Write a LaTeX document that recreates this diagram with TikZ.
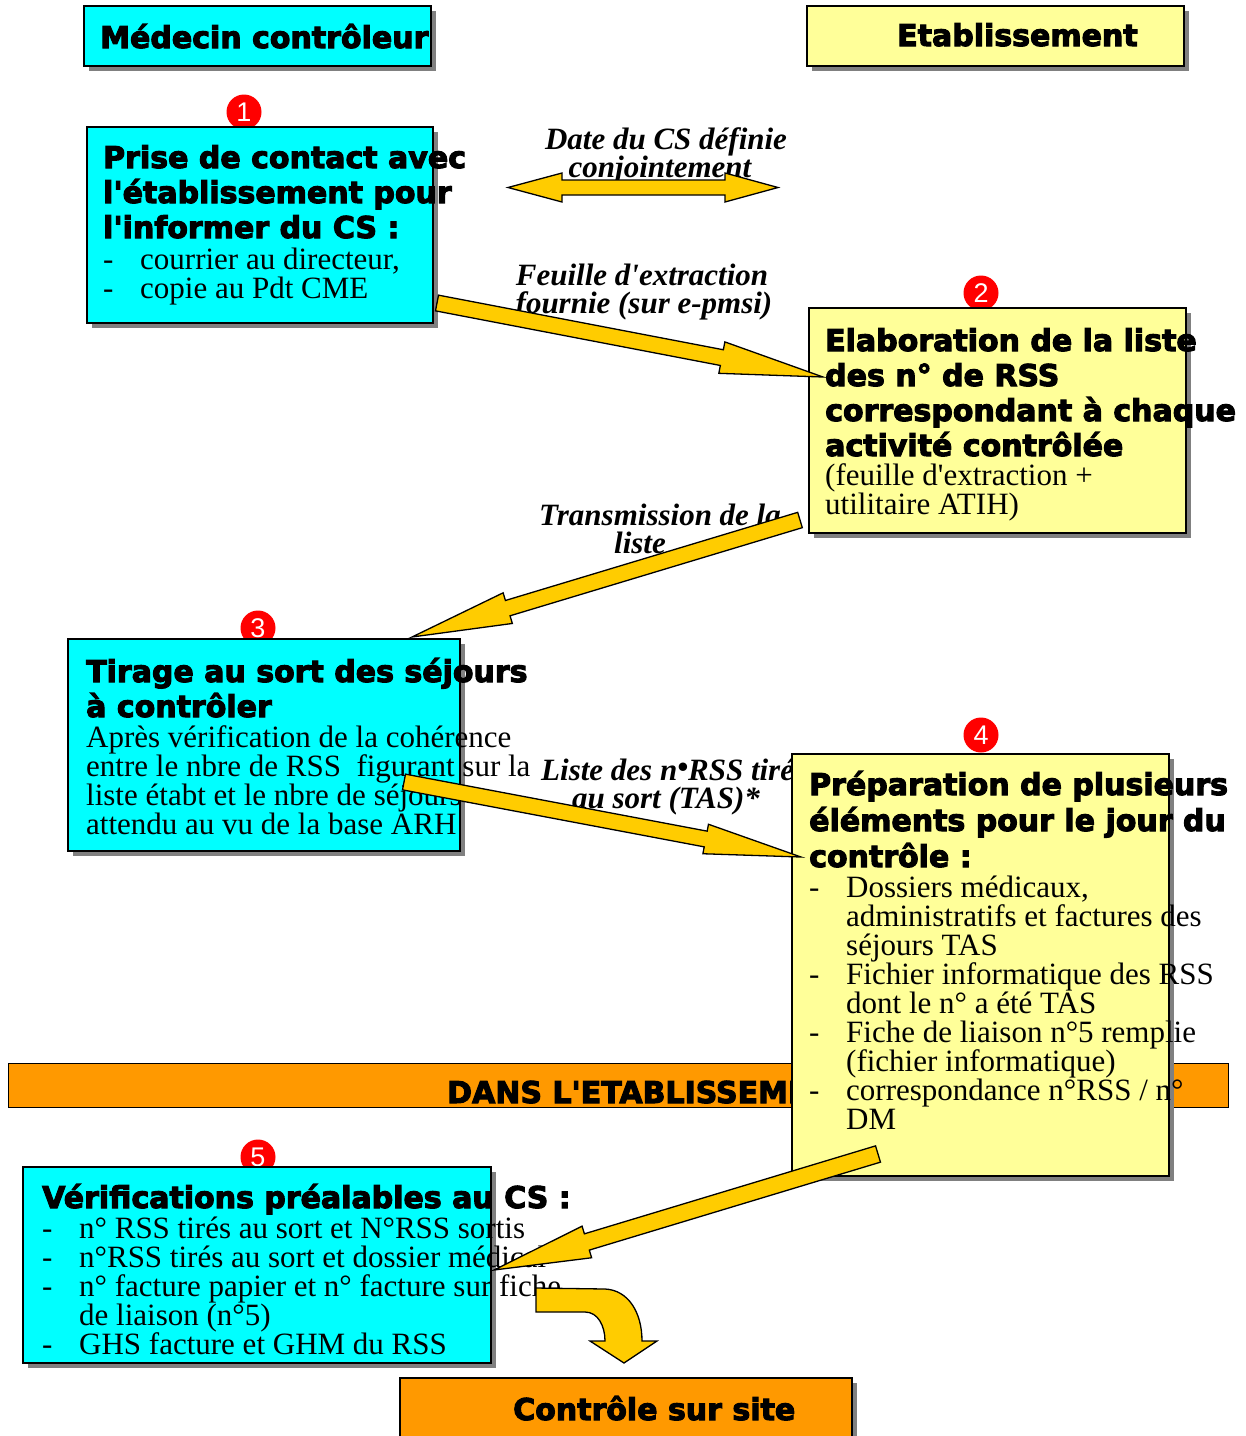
\documentclass[tikz,border=0pt]{standalone}
\usepackage{fontspec}
\setmainfont{Liberation Serif}
\newfontfamily\hdfamily{DejaVu Sans}[BoldFeatures={FakeBold=3.5}]
\newfontfamily\numfamily{Liberation Sans}
\usetikzlibrary{calc,shadows}
\definecolor{cyanbox}{HTML}{00FFFF}
\definecolor{yelbox}{HTML}{FFFF99}
\definecolor{arrowyel}{HTML}{FFCC00}
\definecolor{orangebox}{HTML}{FF9900}
\definecolor{shadowgray}{HTML}{808080}
\definecolor{numred}{HTML}{FF0000}
\newcommand\ap{\textquotesingle}
\newcommand\itm[1]{\makebox[37pt][l]{-}#1}
\newcommand\cnt[1]{\hspace*{37pt}#1}
\newcommand\tlines[6]{\foreach \tlx [count=\tix from 0] in {#6}{\node[#5] (#1\tix) at (#2,#3+\tix*#4) {\tlx};}}
\newcommand\fatarrow[5]{%
  \coordinate (fah) at ($(#2)!#5!(#1)$);
  \draw[blockarrow] ($(#1)!#3!90:(#2)$) -- ($(fah)!#3!90:(#2)$) -- ($(fah)!#4!90:(#2)$) -- (#2) -- ($(fah)!#4!-90:(#2)$) -- ($(fah)!#3!-90:(#2)$) -- ($(#1)!#3!-90:(#2)$) -- cycle;}
\tikzset{
  hd/.style={font=\hdfamily\bfseries\fontsize{30}{35}\selectfont, anchor=base west, inner sep=0pt},
  bd/.style={font=\fontsize{31}{29}\selectfont, anchor=base west, inner sep=0pt},
  lab/.style={font=\bfseries\itshape\fontsize{31}{28}\selectfont, anchor=base, inner sep=0pt},
  box/.style={draw=black, line width=1.2pt, anchor=north west, inner sep=0pt, outer sep=0pt,
    drop shadow={shadow xshift=5pt, shadow yshift=-5pt, fill=shadowgray, opacity=1}},
  num/.style={circle, fill=numred, inner sep=0pt, minimum size=35pt, text=white,
    font=\numfamily\fontsize{27}{27}\selectfont},
  blockarrow/.style={fill=arrowyel, draw=black, line width=1.3pt, line join=miter},
}
\begin{document}
\begin{tikzpicture}[x=1pt,y=-1pt]
\useasboundingbox (0,0) rectangle (1246,1436);
\fill[white] (0,0) rectangle (1246,1436);
% band
\node[draw=black, line width=1pt, fill=orangebox, anchor=north west, inner sep=0pt, minimum width=1220pt, minimum height=44pt] (band) at (8,1063) {};
\node[hd] (bandtxt) at (447,1103) {DANS L\ap ETABLISSEMENT};
% labels
\node[lab] (l1a) at (666,149) {Date du CS définie};
\node[lab] (l1b) at (660,177) {conjointement};
\node[lab] (l2a) at (642,285) {Feuille d\ap extraction};
\node[lab] (l2b) at (644,313) {fournie (sur e-pmsi)};
\node[lab] (l3a) at (660,525) {Transmission de la};
\node[lab] (l3b) at (640,553) {liste};
\node[lab, anchor=base west] (l4a) at (541,780) {Liste des n\raisebox{3pt}{•}RSS tirés};
\node[lab] (l4b) at (666,808) {au sort (TAS)*};
% numbers
\node[num] (n1) at (244,112) {1};
\node[num] (n2) at (981,293) {2};
\node[num] (n3) at (258,628) {3};
\node[num] (n4) at (981,735) {4};
\node[num] (n5) at (258,1157) {5};
% boxes
\node[box, fill=cyanbox, minimum width=347pt, minimum height=60pt] (h1) at (84,6) {};
\node[box, fill=yelbox, minimum width=377pt, minimum height=60pt] (h2) at (807,6) {};
\node[box, fill=cyanbox, minimum width=346pt, minimum height=196pt] (b1) at (87,127) {};
\node[box, fill=yelbox, minimum width=377pt, minimum height=225pt] (b2) at (809,308) {};
\node[box, fill=cyanbox, minimum width=392pt, minimum height=212pt] (b3) at (68,639) {};
\node[box, fill=yelbox, minimum width=377pt, minimum height=422pt] (b4) at (792,754) {};
\node[box, fill=cyanbox, minimum width=468pt, minimum height=196pt] (b5) at (23,1167) {};
\node[box, fill=orangebox, minimum width=452pt, minimum height=90pt] (b6) at (400,1378) {};
% texts
\node[hd] (h1t) at (100,48) {Médecin contrôleur};
\node[hd] (h2t) at (897,46) {Etablissement};
\tlines{b1h}{103}{168}{35}{hd}{Prise de contact avec,l\ap établissement pour,l\ap informer du CS :}
\tlines{b1b}{103}{269}{29}{bd}{{\itm{courrier au directeur,}},\itm{copie au Pdt CME}}
\tlines{b2h}{825}{351}{35}{hd}{Elaboration de la liste,des n° de RSS,correspondant à chaque,activité contrôlée}
\tlines{b2b}{825}{485}{29}{bd}{{(feuille d\ap extraction +},{utilitaire ATIH)}}
\tlines{b3h}{86}{682}{35}{hd}{Tirage au sort des séjours,à contrôler}
\tlines{b3b}{86}{747}{29}{bd}{Après vérification de la cohérence,entre le nbre de RSS\ \ figurant sur la,liste étabt et le nbre de séjours,attendu au vu de la base ARH}
\tlines{b4h}{809}{795}{36}{hd}{Préparation de plusieurs,éléments pour le jour du,contrôle :}
\tlines{b4b}{809}{897}{29}{bd}{{\itm{Dossiers médicaux,}},\cnt{administratifs et factures des},\cnt{séjours TAS},\itm{Fichier informatique des RSS},\cnt{dont le n° a été TAS},\itm{Fiche de liaison n°5 remplie},\cnt{(fichier informatique)},\itm{correspondance n°RSS / n°},\cnt{DM}}
\tlines{b5h}{42}{1208}{35}{hd}{Vérifications préalables au CS :}
\tlines{b5b}{42}{1238}{29}{bd}{\itm{n° RSS tirés au sort et N°RSS sortis},\itm{n°RSS tirés au sort et dossier médical},\itm{n° facture papier et n° facture sur fiche},\cnt{de liaison (n°5)},\itm{GHS facture et GHM du RSS}}
\node[hd] (b6t) at (513,1420) {Contrôle sur site};
% arrows
\coordinate (dl) at (508,187.5);
\coordinate (dr) at (778,187.5);
\draw[blockarrow] (dl) -- (562,173) -- (562,180) -- (725,180) -- (725,173) -- (dr) -- (725,202) -- (725,195) -- (562,195) -- (562,202) -- cycle;
\coordinate (a1t) at (437,303);
\coordinate (a1h) at (823,377);
\fatarrow{a1t}{a1h}{8pt}{16pt}{103pt}
\coordinate (a2t) at (800,520);
\coordinate (a2h) at (412,637);
\fatarrow{a2t}{a2h}{8pt}{16pt}{100pt}
\coordinate (a3t) at (404,782);
\coordinate (a3h) at (801,857);
\fatarrow{a3t}{a3h}{8pt}{15pt}{97pt}
\coordinate (a4t) at (878,1154);
\coordinate (a4h) at (494,1270);
\fatarrow{a4t}{a4h}{8.5pt}{16.5pt}{97pt}
\coordinate (ct) at (536,1288);
\coordinate (ch) at (624,1363);
\draw[blockarrow] (ct) -- (605,1289) .. controls (628,1290) and (642,1312) .. (642,1341) -- (657,1341) -- (ch) -- (590,1341) -- (605,1341) .. controls (605,1326) and (598,1312) .. (585,1312) -- (536,1312) -- cycle;
\end{tikzpicture}
\end{document}
